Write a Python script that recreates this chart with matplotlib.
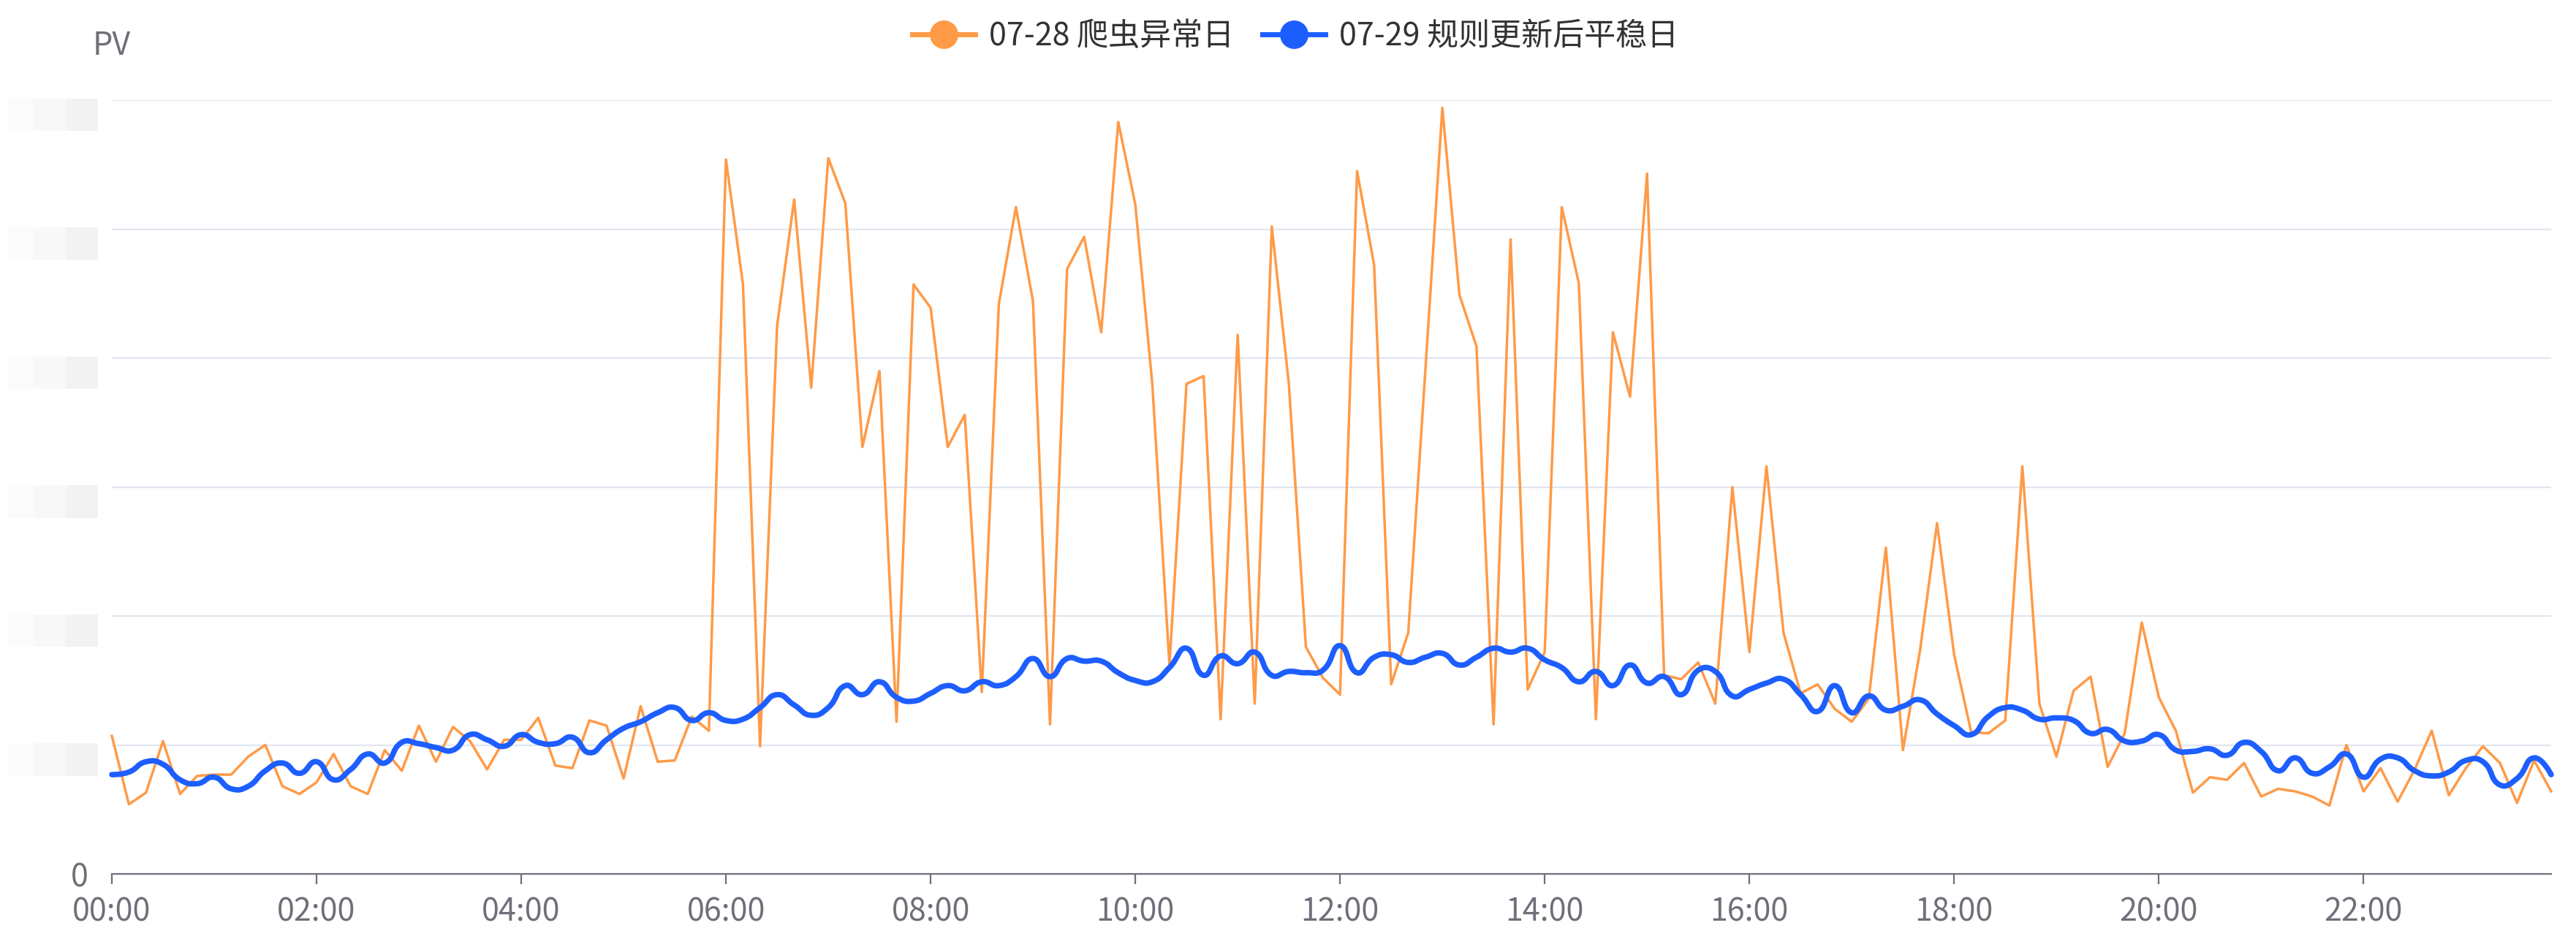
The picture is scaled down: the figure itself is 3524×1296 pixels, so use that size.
import numpy as np
import matplotlib.pyplot as plt
from matplotlib.path import Path
from matplotlib.patches import PathPatch, Rectangle
from matplotlib.lines import Line2D
from matplotlib.transforms import blended_transform_factory

plt.rcParams['font.family'] = ['Noto Sans CJK SC', 'DejaVu Sans']

# 10-minute buckets over one day
times = ['%02d:%02d' % (h, m) for h in range(24) for m in range(0, 60, 10)]

# 07-28 crawler day (PV, one gridline = 1 unit)
crawler_day = [
    1.07, 0.54, 0.63, 1.03, 0.62, 0.76,   # 00
    0.77, 0.77, 0.91, 1.00, 0.68, 0.62,   # 01
    0.71, 0.93, 0.68, 0.62, 0.96, 0.80,   # 02
    1.15, 0.87, 1.14, 1.03, 0.81, 1.04,   # 03
    1.04, 1.21, 0.84, 0.82, 1.19, 1.15,   # 04
    0.74, 1.30, 0.87, 0.88, 1.22, 1.11,   # 05
    5.54, 4.57, 0.99, 4.25, 5.23, 3.77,   # 06
    5.55, 5.20, 3.31, 3.90, 1.18, 4.57,   # 07
    4.39, 3.31, 3.56, 1.41, 4.42, 5.17,   # 08
    4.44, 1.16, 4.69, 4.94, 4.20, 5.83,   # 09
    5.19, 3.79, 1.62, 3.80, 3.86, 1.20,   # 10
    4.18, 1.32, 5.02, 3.80, 1.76, 1.52,   # 11
    1.39, 5.45, 4.72, 1.47, 1.87, 3.90,   # 12
    5.94, 4.49, 4.09, 1.16, 4.92, 1.43,   # 13
    1.72, 5.17, 4.58, 1.20, 4.20, 3.70,   # 14
    5.43, 1.54, 1.51, 1.64, 1.32, 3.00,   # 15
    1.72, 3.16, 1.87, 1.40, 1.47, 1.28,   # 16
    1.18, 1.36, 2.53, 0.96, 1.73, 2.72,   # 17
    1.70, 1.10, 1.09, 1.19, 3.16, 1.32,   # 18
    0.91, 1.42, 1.53, 0.83, 1.09, 1.95,   # 19
    1.37, 1.11, 0.63, 0.75, 0.73, 0.86,   # 20
    0.60, 0.66, 0.64, 0.60, 0.53, 1.00,   # 21
    0.64, 0.82, 0.56, 0.81, 1.11, 0.61,   # 22
    0.82, 0.99, 0.86, 0.55, 0.88, 0.64,   # 23
]

# 07-29 after rule update
stable_day = [
    0.77, 0.79, 0.87, 0.85, 0.73, 0.70,   # 00
    0.75, 0.66, 0.68, 0.80, 0.86, 0.78,   # 01
    0.87, 0.73, 0.81, 0.93, 0.86, 1.02,   # 02
    1.01, 0.98, 0.96, 1.08, 1.04, 0.99,   # 03
    1.08, 1.02, 1.01, 1.06, 0.94, 1.04,   # 04
    1.13, 1.18, 1.25, 1.29, 1.19, 1.25,   # 05
    1.19, 1.20, 1.29, 1.39, 1.31, 1.23,   # 06
    1.29, 1.46, 1.39, 1.49, 1.37, 1.34,   # 07
    1.40, 1.46, 1.42, 1.49, 1.46, 1.53,   # 08
    1.67, 1.53, 1.67, 1.65, 1.65, 1.56,   # 09
    1.50, 1.49, 1.60, 1.75, 1.54, 1.69,   # 10
    1.63, 1.72, 1.54, 1.57, 1.56, 1.58,   # 11
    1.77, 1.56, 1.68, 1.70, 1.64, 1.68,   # 12
    1.71, 1.62, 1.68, 1.75, 1.72, 1.75,   # 13
    1.66, 1.60, 1.49, 1.57, 1.46, 1.62,   # 14
    1.48, 1.53, 1.39, 1.58, 1.57, 1.38,   # 15
    1.43, 1.48, 1.51, 1.39, 1.26, 1.46,   # 16
    1.25, 1.38, 1.27, 1.30, 1.35, 1.24,   # 17
    1.15, 1.08, 1.22, 1.29, 1.27, 1.20,   # 18
    1.21, 1.19, 1.09, 1.12, 1.03, 1.03,   # 19
    1.08, 0.96, 0.95, 0.97, 0.92, 1.02,   # 20
    0.95, 0.80, 0.90, 0.78, 0.83, 0.93,   # 21
    0.75, 0.89, 0.90, 0.80, 0.76, 0.79,   # 22
    0.88, 0.87, 0.69, 0.74, 0.90, 0.77,   # 23
]

series_names = ['07-28 爬虫异常日', '07-29 规则更新后平稳日']
ORANGE = '#FF9A47'
BLUE = '#1D5EFF'
AXIS = '#6E7079'
GRID = '#E0E6F1'


def smooth_path(ys, sx, sy, smooth=0.5):
    # bezier smoothing done in pixel-like space, like echarts smooth lines
    px = np.arange(len(ys)) * sx
    py = np.asarray(ys, float) * sy
    n = len(px)
    cp_out = np.zeros((n, 2))
    cp_in = np.zeros((n, 2))
    for i in range(n):
        if i == 0 or i == n - 1:
            cp_out[i] = cp_in[i] = (px[i], py[i])
            continue
        vx = px[i + 1] - px[i - 1]
        vy = py[i + 1] - py[i - 1]
        d0 = np.hypot(px[i] - px[i - 1], py[i] - py[i - 1])
        d1 = np.hypot(px[i + 1] - px[i], py[i + 1] - py[i])
        r = d1 / (d0 + d1)
        cp_out[i] = (px[i] + vx * smooth * r, py[i] + vy * smooth * r)
        cp_in[i] = (px[i] - vx * smooth * (1 - r), py[i] - vy * smooth * (1 - r))
    verts = [(px[0], py[0])]
    codes = [Path.MOVETO]
    for i in range(1, n):
        verts += [tuple(cp_out[i - 1]), tuple(cp_in[i]), (px[i], py[i])]
        codes += [Path.CURVE4] * 3
    verts = np.array(verts) / [sx, sy]
    return Path(verts, codes)


W, H = 3524, 1296
fig = plt.figure(figsize=(W / 100, H / 100), dpi=100)
ax = fig.add_axes([153 / W, 100 / H, 3337 / W, 1059 / H])

x = np.arange(len(times))
ax.plot(x, crawler_day, color=ORANGE, lw=2.5, clip_on=False, zorder=3)
blue_path = smooth_path(stable_day, 23.3, 176.5)
ax.add_patch(PathPatch(blue_path, fill=False, edgecolor=BLUE, lw=5.4,
                       capstyle='round', joinstyle='round', zorder=4, clip_on=False))

ax.set_xlim(0, len(times) - 1)
ax.set_ylim(0, 6)

for s in ['top', 'right', 'left']:
    ax.spines[s].set_visible(False)
ax.spines['bottom'].set_color(AXIS)
ax.spines['bottom'].set_linewidth(1.6)

ax.set_xticks(x[::12])
ax.set_xticklabels(times[::12])
ax.tick_params(axis='x', colors=AXIS, length=10, width=1.6, pad=12, labelsize=31)
ax.set_yticks(range(7))
ax.set_yticklabels(['0'] + [''] * 6)
ax.tick_params(axis='y', length=0, pad=23, labelsize=31, labelcolor=AXIS)
ax.yaxis.grid(True, color=GRID, lw=1.6)
ax.set_axisbelow(True)

ax.text(0, 6.42, 'PV', ha='center', va='center', fontsize=31, color=AXIS)

# y labels are pixelated in the source, mimic with faint blocks
blur = blended_transform_factory(fig.transFigure, ax.transData)
cells = [(11, 46, '#fbfbfc'), (46, 90, '#f8f8f8'), (90, 134, '#f2f2f2')]
for lvl in range(1, 7):
    for x0, x1, c in cells:
        fig.add_artist(Rectangle((x0 / W, lvl - 0.238), (x1 - x0) / W, 0.25,
                                 transform=blur, facecolor=c, edgecolor='none'))

handles = [Line2D([], [], color=ORANGE, lw=5, marker='o', ms=27),
           Line2D([], [], color=BLUE, lw=5, marker='o', ms=27)]
fig.legend(handles, series_names, loc='center', bbox_to_anchor=(1772 / W, 1 - 50 / H),
           ncol=2, frameon=False, fontsize=31, handlelength=2.0, handletextpad=0.45,
           columnspacing=0.9, labelcolor='#333333')

fig.savefig('out.png', dpi=100)
